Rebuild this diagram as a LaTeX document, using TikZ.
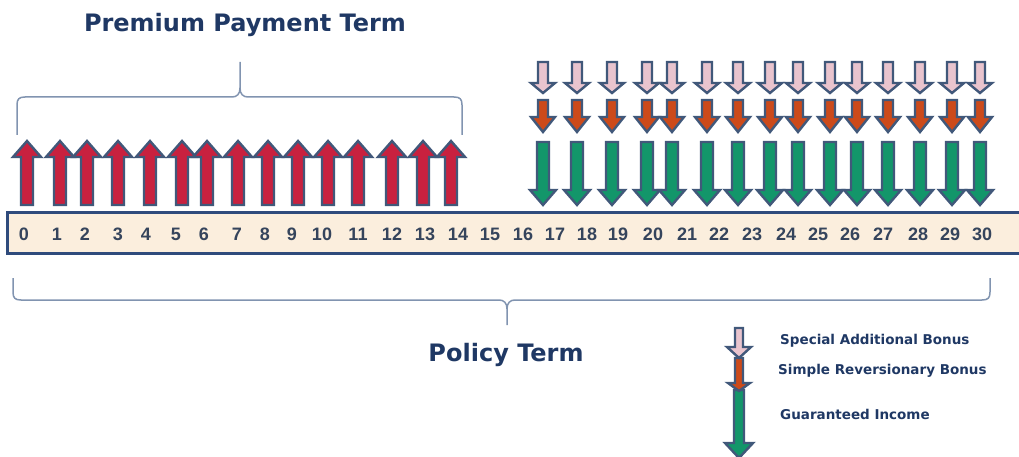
\documentclass[tikz,border=0pt]{standalone}
\usepackage{fontspec}
\setmainfont{DejaVu Sans}
\newfontfamily\numfont{Liberation Sans}
\usetikzlibrary{positioning}

\definecolor{navy}{HTML}{1F3864}
\definecolor{bracecol}{HTML}{8194B0}
\definecolor{boxline}{HTML}{2F4B7C}
\definecolor{boxfill}{HTML}{FBEEDD}
\definecolor{arrline}{HTML}{41587A}
\definecolor{yeartext}{HTML}{35445C}
\definecolor{premred}{HTML}{C8213F}
\definecolor{incgreen}{HTML}{13966A}
\definecolor{srborange}{HTML}{CC4A1A}
\definecolor{sabpink}{HTML}{E9C4CE}

\tikzset{
  arrbox/.style={draw=arrline, line width=2.4pt, line join=miter},
  premium/.style={arrbox, fill=premred},
  income/.style={arrbox, fill=incgreen},
  revbonus/.style={arrbox, fill=srborange},
  addbonus/.style={arrbox, fill=sabpink},
  termbrace/.style={draw=bracecol, line width=1.5pt},
  headline/.style={font=\fontsize{24}{28}\selectfont\bfseries, text=navy},
  legendtext/.style={font=\fontsize{13.5}{16}\selectfont\bfseries, text=navy, anchor=west, inner sep=0pt},
  year/.style={font=\numfont\fontsize{18}{22}\selectfont\bfseries, text=yeartext, inner sep=0pt}
}

% block arrow: x, start y, shoulder y, tip y, half shaft, half head, style
\newcommand{\blockarrow}[7]{%
  \draw[#7] (#1-#5,#2) -- (#1-#5,#3) -- (#1-#6,#3) -- (#1,#4) -- (#1+#6,#3) -- (#1+#5,#3) -- (#1+#5,#2) -- cycle;}

\begin{document}
\begin{tikzpicture}[x=1pt, y=-1pt]
\useasboundingbox (0,0) rectangle (1019,457);

% titles
\node[headline] (ppt) at (245,25) {Premium Payment Term};
\node[headline] (pt) at (506,355) {Policy Term};

% premium payment brace
\draw[termbrace] (17,135) -- (17,105) .. controls (17,99) and (19,97) .. (25,97) -- (232,97)
  .. controls (237,97) and (240,94) .. (240,88) -- (240,62);
\draw[termbrace] (240,88) .. controls (240,94) and (243,97) .. (248,97) -- (454,97)
  .. controls (460,97) and (462,99) .. (462,105) -- (462,135);

% policy term brace
\draw[termbrace] (13,278) -- (13,292) .. controls (13,298) and (15,300) .. (21,300) -- (499,300)
  .. controls (504,300) and (507,303) .. (507,309) -- (507,325);
\draw[termbrace] (507,309) .. controls (507,303) and (510,300) .. (515,300) -- (982,300)
  .. controls (988,300) and (990,298) .. (990,292) -- (990,278);

% time line
\draw[draw=boxline, fill=boxfill, line width=3pt] (7,212) rectangle (1040,253);
\foreach \n/\x in {0/24,1/57,2/85,3/118,4/146,5/176,6/204,7/237,8/265,9/292,10/322,
  11/358,12/392,13/425,14/458,15/490,16/523,17/555,18/587,19/618,20/653,21/687,
  22/719,23/752,24/786,25/818,26/850,27/883,28/918,29/950,30/982}
  \node[year] (y\n) at (\x,234) {\n};

% premiums
\foreach \x in {27,60,87,118,150,182,207,238,268,298,328,358,392,423,451}{
  \blockarrow{\x}{205}{157}{141}{6}{14}{premium}
}

% bonuses and income
\foreach \x in {543,577,612,647,672,707,738,770,798,830,857,888,920,952,980}{
  \blockarrow{\x}{142}{190}{205}{6}{13}{income}
  \blockarrow{\x}{100}{117}{132}{5}{12}{revbonus}
  \blockarrow{\x}{62}{83}{93}{5}{12}{addbonus}
}

% legend
\blockarrow{739}{390}{443}{458}{5}{14}{income}
\blockarrow{739}{358}{383}{391}{4}{11}{revbonus}
\blockarrow{739}{328}{347}{358}{4}{12}{addbonus}
\node[legendtext] (sab) at (780,341) {Special Additional Bonus};
\node[legendtext] (srb) at (778,371) {Simple Reversionary Bonus};
\node[legendtext] (gi) at (780,414) {Guaranteed Income};
\end{tikzpicture}
\end{document}
